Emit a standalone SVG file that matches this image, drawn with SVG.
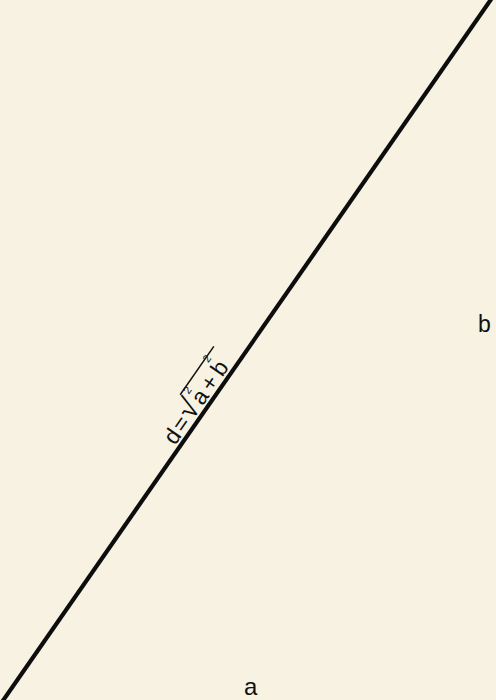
<svg xmlns="http://www.w3.org/2000/svg" width="496" height="700" viewBox="0 0 496 700">
  <style>
    .lbl { font-family: "Liberation Sans", "DejaVu Sans", sans-serif; fill: #111; }
    .formula { font-family: "Liberation Sans", "DejaVu Sans", sans-serif; fill: #111; font-size: 23px; }
    .sup { font-size: 11px; }
    .rad { font-size: 30px; }
  </style>
  <rect id="background" x="0" y="0" width="496" height="700" fill="#f8f2e3"/>
  <g id="connectors">
    <line id="diagonal" x1="492" y1="-2" x2="2" y2="702" stroke="#0d0d0d" stroke-width="4.2"/>
  </g>
  <g id="formula" transform="translate(175,446) rotate(-55.2)">
    <text class="formula" y="0">
      <tspan x="0">d</tspan><tspan x="15">=</tspan><tspan x="30" class="rad">√</tspan><tspan x="48">a</tspan><tspan x="50" y="-18" class="sup">2</tspan><tspan x="65" y="0">+</tspan><tspan x="83">b</tspan><tspan x="87" y="-20" class="sup">2</tspan>
    </text>
    <line x1="45" y1="-25" x2="104" y2="-25" stroke="#111" stroke-width="1.5"/>
  </g>
  <g id="label-b">
    <text class="lbl" x="478" y="332" font-size="23">b</text>
  </g>
  <g id="label-a">
    <text class="lbl" x="244" y="695" font-size="24">a</text>
  </g>
</svg>
